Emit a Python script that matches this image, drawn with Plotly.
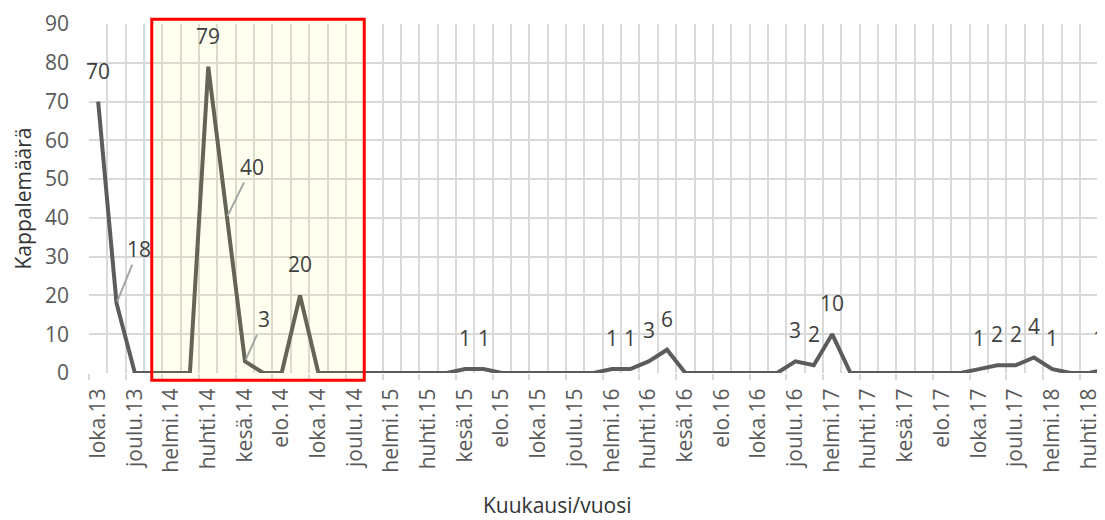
import plotly.graph_objects as go

# ---- data ----
months = [
    "loka.13", "marras.13", "joulu.13",
    "tammi.14", "helmi.14", "maalis.14", "huhti.14", "touko.14", "kesä.14",
    "heinä.14", "elo.14", "syys.14", "loka.14", "marras.14", "joulu.14",
    "tammi.15", "helmi.15", "maalis.15", "huhti.15", "touko.15", "kesä.15",
    "heinä.15", "elo.15", "syys.15", "loka.15", "marras.15", "joulu.15",
    "tammi.16", "helmi.16", "maalis.16", "huhti.16", "touko.16", "kesä.16",
    "heinä.16", "elo.16", "syys.16", "loka.16", "marras.16", "joulu.16",
    "tammi.17", "helmi.17", "maalis.17", "huhti.17", "touko.17", "kesä.17",
    "heinä.17", "elo.17", "syys.17", "loka.17", "marras.17", "joulu.17",
    "tammi.18", "helmi.18", "maalis.18", "huhti.18", "touko.18",
]
counts = [
    70, 18, 0,
    0, 0, 0, 79, 40, 3, 0, 0, 20, 0, 0, 0,
    0, 0, 0, 0, 0, 1, 1, 0, 0, 0, 0, 0,
    0, 1, 1, 3, 6, 0, 0, 0, 0, 0, 0, 3,
    2, 10, 0, 0, 0, 0, 0, 0, 0, 1, 2, 2,
    4, 1, 0, 0, 1,
]
y_title = "Kappalemäärä"
x_title = "Kuukausi/vuosi"
# highlighted period (category units, value units)
highlight_x = [2.92, 14.5]
highlight_y = [-1.9, 91.2]

# ---- style ----
FONT = "Open Sans"
FS = 21
GRID = "#d9d9d9"
TICK_COL = "#595959"
LABEL_COL = "#404040"
X_RANGE = [-0.5, 54.87]
Y_RANGE = [0, 90]
callouts = {1: (22, -54), 7: (25, -51), 8: (19, -42)}
# page body has an 8px margin; figure is sized so it ends at the window edge
PAGE_OFF = 8

xs = list(range(len(months)))

fig = go.Figure()
fig.add_trace(go.Scatter(
    x=xs, y=counts, mode="lines",
    line=dict(color="#5c5c5c", width=4),
    hoverinfo="skip", showlegend=False,
))

ann = []
span = X_RANGE[1] - X_RANGE[0]
for i, v in enumerate(counts):
    if v <= 0:
        continue
    if i in callouts:
        ax, ay = callouts[i]
        ann.append(dict(x=i, y=v, xref="x", yref="y", text=str(v),
                        showarrow=True, arrowhead=0, arrowwidth=2,
                        arrowcolor="#a6a6a6", ax=ax, ay=ay, standoff=2,
                        font=dict(family=FONT, size=FS, color=LABEL_COL)))
    else:
        if i > X_RANGE[1]:
            xr, xv = "paper", (i - X_RANGE[0]) / span
        else:
            xr, xv = "x", i
        ann.append(dict(x=xv, y=v, xref=xr, yref="y", text=str(v),
                        showarrow=False, yshift=31,
                        font=dict(family=FONT, size=FS, color=LABEL_COL)))

plot_w = 1016
plot_h = 349
ann.append(dict(x=(557 - 89) / plot_w, y=-(505 - 373) / plot_h, xref="paper", yref="paper",
                text=x_title, showarrow=False, xanchor="center", yanchor="middle",
                font=dict(family=FONT, size=FS, color="#333333")))
ann.append(dict(x=-(89 - 22) / plot_w, y=0.5, xref="paper", yref="paper",
                text=y_title, showarrow=False, textangle=-90,
                xanchor="center", yanchor="middle",
                font=dict(family=FONT, size=FS, color="#333333")))

fig.add_shape(type="rect", xref="paper", yref="paper",
              x0=(highlight_x[0] - X_RANGE[0]) / span,
              x1=(highlight_x[1] - X_RANGE[0]) / span,
              y0=(highlight_y[0] - Y_RANGE[0]) / (Y_RANGE[1] - Y_RANGE[0]),
              y1=(highlight_y[1] - Y_RANGE[0]) / (Y_RANGE[1] - Y_RANGE[0]),
              line=dict(color="#ff0000", width=3),
              fillcolor="rgba(255,255,0,0.06)", layer="above")

fig.update_layout(
    width=1105 - PAGE_OFF, height=520 - PAGE_OFF,
    margin=dict(l=89 - PAGE_OFF, r=0, t=24 - PAGE_OFF, b=147, pad=0),
    paper_bgcolor="white", plot_bgcolor="white",
    font=dict(family=FONT, size=FS, color=TICK_COL),
    annotations=ann,
    xaxis=dict(
        range=X_RANGE, automargin=False,
        tickmode="array",
        tickvals=[i - 0.5 for i in xs[::2]],
        ticktext=months[::2],
        tickangle=-90,
        ticklabelshift=9,
        ticks="outside", ticklen=6, tickcolor=GRID, tickwidth=1.5,
        tickfont=dict(family=FONT, size=FS, color=TICK_COL),
        showgrid=True, gridcolor=GRID, gridwidth=1.5,
        minor=dict(tick0=-0.5, dtick=1, showgrid=True, gridcolor=GRID, gridwidth=1.5),
        zeroline=False, showline=False,
    ),
    yaxis=dict(
        range=Y_RANGE, dtick=10, automargin=False,
        tickfont=dict(family=FONT, size=FS, color=TICK_COL),
        ticklabelstandoff=19,
        showgrid=True, gridcolor=GRID, gridwidth=1.5,
        zeroline=False, showline=False,
    ),
)

fig.write_html("out.html")
